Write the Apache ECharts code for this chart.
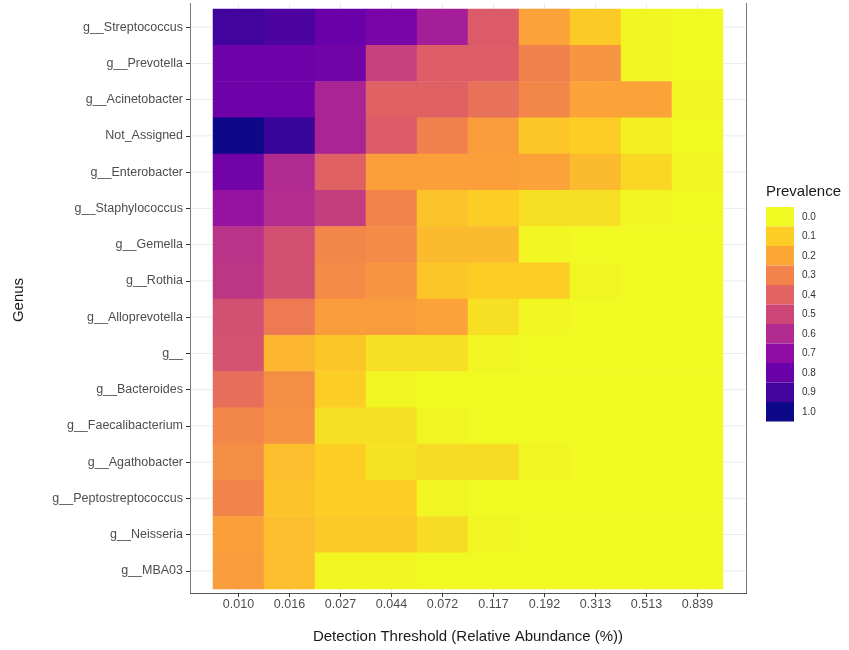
<!DOCTYPE html>
<html><head><meta charset="utf-8">
<script src="https://cdn.jsdelivr.net/npm/echarts@6/dist/echarts.min.js"></script>
<style>html,body{margin:0;padding:0;background:#fff}#c{width:849px;height:650px}</style>
</head><body><div id="c"></div>
<script>
// Genus rows, top to bottom
const genera = ['g__Streptococcus','g__Prevotella','g__Acinetobacter','Not_Assigned','g__Enterobacter',
  'g__Staphylococcus','g__Gemella','g__Rothia','g__Alloprevotella','g__','g__Bacteroides',
  'g__Faecalibacterium','g__Agathobacter','g__Peptostreptococcus','g__Neisseria','g__MBA03'];
// Detection thresholds (x categories)
const thresholds = ['0.010','0.016','0.027','0.044','0.072','0.117','0.192','0.313','0.513','0.839'];
// Legend tick labels
const legendTicks = ['0.0','0.1','0.2','0.3','0.4','0.5','0.6','0.7','0.8','0.9','1.0'];
// plasma palette (reversed): colour at prevalence 0.0 ... 1.0
const plasmaStops = ['#F0F921','#FCCE25','#FCA636','#F2844B','#E16462','#CC4778','#B12A90','#8F0DA4','#6A00A8','#41049D','#0D0887'];

// Prevalence per genus across thresholds
const streptococcus      = [0.90,0.87,0.80,0.76,0.64,0.43,0.21,0.11,0.01,0.00];
const prevotella         = [0.79,0.79,0.78,0.52,0.42,0.42,0.31,0.25,0.01,0.00];
const acinetobacter      = [0.79,0.79,0.62,0.41,0.41,0.36,0.29,0.21,0.21,0.01];
const notAssigned        = [1.00,0.92,0.62,0.43,0.31,0.23,0.12,0.10,0.02,0.00];
const enterobacter       = [0.78,0.60,0.41,0.22,0.22,0.22,0.21,0.15,0.08,0.01];
const staphylococcus     = [0.68,0.59,0.53,0.30,0.13,0.10,0.06,0.06,0.01,0.00];
const gemella            = [0.57,0.47,0.29,0.28,0.15,0.15,0.01,0.00,0.00,0.00];
const rothia             = [0.56,0.47,0.28,0.25,0.12,0.10,0.10,0.01,0.00,0.00];
const alloprevotella     = [0.47,0.33,0.23,0.23,0.21,0.06,0.01,0.00,0.00,0.00];
const gUnassigned        = [0.46,0.16,0.12,0.06,0.06,0.01,0.00,0.00,0.00,0.00];
const bacteroides        = [0.37,0.27,0.10,0.01,0.00,0.00,0.00,0.00,0.00,0.00];
const faecalibacterium   = [0.29,0.26,0.06,0.06,0.01,0.00,0.00,0.00,0.00,0.00];
const agathobacter       = [0.27,0.14,0.10,0.05,0.07,0.07,0.01,0.00,0.00,0.00];
const peptostreptococcus = [0.30,0.13,0.10,0.10,0.01,0.00,0.00,0.00,0.00,0.00];
const neisseria          = [0.22,0.14,0.11,0.11,0.07,0.01,0.00,0.00,0.00,0.00];
const mba03              = [0.23,0.14,0.01,0.01,0.00,0.00,0.00,0.00,0.00,0.00];

const rows = [streptococcus,prevotella,acinetobacter,notAssigned,enterobacter,staphylococcus,gemella,
  rothia,alloprevotella,gUnassigned,bacteroides,faecalibacterium,agathobacter,peptostreptococcus,neisseria,mba03];

const data = [];
rows.forEach((r, yi) => r.forEach((v, xi) => data.push([xi, yi, v])));

const FONT = "'Liberation Sans', Arial, sans-serif";
const chart = echarts.init(document.getElementById('c'), null, {renderer: 'canvas'});

const P = {left: 190, right: 746, top: 3, bottom: 593};

const option = {
  animation: false,
  backgroundColor: '#ffffff',
  textStyle: {fontFamily: FONT},
  grid: {left: 213, right: 849 - 723, top: 9, bottom: 650 - 589, containLabel: false},
  xAxis: {
    type: 'category', data: thresholds, offset: 4,
    axisLine: {show: false},
    axisTick: {show: true, alignWithLabel: true, length: 4, lineStyle: {color: '#333'}},
    axisLabel: {color: '#4d4d4d', fontSize: 12.5, margin: 5, fontFamily: FONT},
    splitLine: {show: false}
  },
  yAxis: {
    type: 'category', data: genera, inverse: true, offset: 23,
    axisLine: {show: false},
    axisTick: {show: true, alignWithLabel: true, length: 4, lineStyle: {color: '#333'}},
    axisLabel: {color: '#4d4d4d', fontSize: 12.5, margin: 7, fontFamily: FONT},
    splitLine: {show: false}
  },
  visualMap: [
    {type: 'continuous', min: 0, max: 1, show: false, seriesIndex: 0, dimension: 2,
     inRange: {color: plasmaStops}},
    {type: 'piecewise', seriesIndex: 1, show: true, left: 766, top: 207, orient: 'vertical',
     align: 'left', padding: 0,
     itemWidth: 28, itemHeight: 19.5, itemGap: 0, textGap: 8, itemSymbol: 'rect',
     selectedMode: false, inverse: true,
     pieces: legendTicks.map((t, i) => ({value: parseFloat(t), label: t, color: plasmaStops[i]})),
     textStyle: {fontSize: 10, color: '#333', fontFamily: FONT}}
  ],
  series: [
    {type: 'heatmap', data: data, itemStyle: {borderWidth: 0}, emphasis: {disabled: true}},
    {type: 'heatmap', data: []}
  ],
  graphic: []
};
chart.setOption(option);

// panel decorations: gridlines in the margins and border
const g = [];
genera.forEach((_, i) => {
  const y = chart.convertToPixel({gridIndex: 0}, [0, i])[1];
  g.push({type: 'line', silent: true, z: -1, shape: {x1: P.left, y1: y, x2: P.right, y2: y}, style: {stroke: '#ebebeb', lineWidth: 1}});
});
thresholds.forEach((_, i) => {
  const x = chart.convertToPixel({gridIndex: 0}, [i, 0])[0];
  g.push({type: 'line', silent: true, z: -1, shape: {x1: x, y1: P.top, x2: x, y2: P.bottom}, style: {stroke: '#ebebeb', lineWidth: 1}});
});
g.push({type: 'line', silent: true, shape: {x1: P.left + 0.5, y1: P.top, x2: P.left + 0.5, y2: P.bottom}, style: {stroke: '#777', lineWidth: 1}});
g.push({type: 'line', silent: true, shape: {x1: P.right + 0.5, y1: P.top, x2: P.right + 0.5, y2: P.bottom}, style: {stroke: '#777', lineWidth: 1}});
g.push({type: 'line', silent: true, shape: {x1: P.left, y1: P.bottom + 0.5, x2: P.right + 1, y2: P.bottom + 0.5}, style: {stroke: '#555', lineWidth: 1.2}});
// axis titles and legend title
g.push({type: 'text', silent: true, x: 468, y: 637, style: {text: 'Detection Threshold (Relative Abundance (%))', font: '15px ' + FONT, fill: '#1a1a1a', align: 'center', verticalAlign: 'middle'}});
g.push({type: 'text', silent: true, x: 19, y: 300, rotation: Math.PI / 2, style: {text: 'Genus', font: '15px ' + FONT, fill: '#1a1a1a', align: 'center', verticalAlign: 'middle'}});
g.push({type: 'text', silent: true, x: 766, y: 192, style: {text: 'Prevalence', font: '15px ' + FONT, fill: '#1a1a1a', align: 'left', verticalAlign: 'middle'}});
chart.setOption({graphic: g});
</script></body></html>
